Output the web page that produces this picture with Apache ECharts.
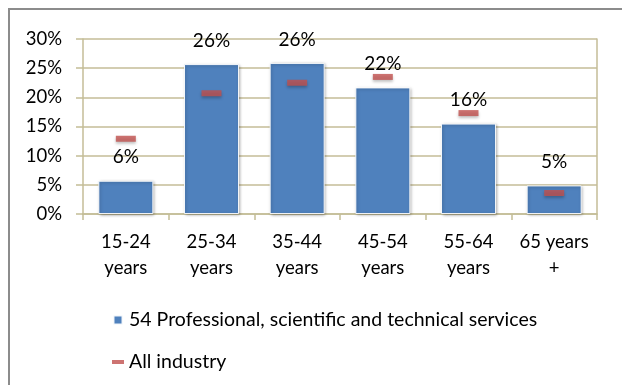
<!DOCTYPE html>
<html>
<head>
<meta charset="utf-8">
<style>
  html, body { margin: 0; padding: 0; background: #fff; }
  #chart { width: 622px; height: 385px; }
</style>
<script src="https://cdn.jsdelivr.net/npm/echarts@6/dist/echarts.min.js"></script>
</head>
<body>
<div id="chart"></div>
<script>
// Age groups along the category axis
const categories = ['15-24\nyears', '25-34\nyears', '35-44\nyears', '45-54\nyears', '55-64\nyears', '65 years\n+'];
// Share of workers (%) in sector 54
const professionalShare = [5.7, 25.7, 25.9, 21.7, 15.5, 4.9];
// Share of workers (%) across all industries
const allIndustryShare = [12.9, 20.7, 22.5, 23.5, 17.3, 3.6];
// Value axis range
const yMin = 0, yMax = 30, yStep = 5;

const seriesNames = ['54 Professional, scientific and technical services', 'All industry'];
const FONT = 'Lato';
const AXIS = '#c4bd97';

const chart = echarts.init(document.getElementById('chart'), null, { renderer: 'canvas' });

chart.setOption({
  animation: false,
  textStyle: { fontFamily: FONT },
  graphic: [{
    type: 'rect',
    shape: { x: 9, y: 9, width: 700, height: 500 },
    style: { fill: 'none', stroke: '#8c8c8c', lineWidth: 2 },
    silent: true, z: -10
  }],
  grid: { left: 83, right: 25, top: 39, bottom: 171 },
  legend: {
    orient: 'vertical',
    left: 107,
    top: 305,
    itemWidth: 12,
    itemHeight: 9,
    itemGap: 22,
    textStyle: { fontFamily: FONT, fontSize: 19.5, color: '#000' },
    data: [
      { name: seriesNames[0], icon: 'path://M0,0H9V9H0Z' },
      { name: seriesNames[1], icon: 'path://M0,0H12V4H0Z' }
    ]
  },
  xAxis: {
    type: 'category',
    data: categories,
    axisLine: { lineStyle: { color: AXIS, width: 1.5 } },
    axisTick: { show: true, length: 6, lineStyle: { color: AXIS, width: 1.5 } },
    axisLabel: { interval: 0, fontFamily: FONT, fontSize: 18.5, color: '#000', lineHeight: 26, margin: 15 }
  },
  yAxis: [{
    type: 'value',
    min: yMin, max: yMax, interval: yStep,
    axisLine: { show: true, lineStyle: { color: AXIS, width: 1.5 } },
    axisTick: { show: true, length: 7, lineStyle: { color: AXIS, width: 1.5 } },
    splitLine: { lineStyle: { color: AXIS, width: 1.5 } },
    axisLabel: { formatter: '{value}%', fontFamily: FONT, fontSize: 18.5, color: '#000', margin: 21 }
  }, {
    type: 'value',
    position: 'right',
    min: yMin, max: yMax, interval: yStep,
    axisLine: { show: true, lineStyle: { color: AXIS, width: 1.5 } },
    axisTick: { show: false },
    axisLabel: { show: false },
    splitLine: { show: false }
  }],
  series: [{
    name: seriesNames[0],
    type: 'bar',
    data: professionalShare,
    barWidth: 55,
    itemStyle: {
      color: '#4f81bd',
      borderColor: 'rgba(255,255,255,0.9)',
      borderWidth: 1,
      shadowColor: 'rgba(0,0,0,0.3)',
      shadowBlur: 3,
      shadowOffsetX: 1,
      shadowOffsetY: 1
    },
    label: {
      show: true,
      position: 'top',
      distance: 14,
      fontFamily: FONT,
      fontSize: 19,
      color: '#000',
      formatter: p => Math.round(p.value) + '%'
    }
  }, {
    name: seriesNames[1],
    type: 'scatter',
    data: allIndustryShare,
    symbol: 'rect',
    symbolSize: [20, 6],
    z: 5,
    itemStyle: {
      color: '#c0504d',
      shadowColor: 'rgba(0,0,0,0.3)',
      shadowBlur: 3,
      shadowOffsetY: 2
    }
  }]
});
</script>
</body>
</html>
